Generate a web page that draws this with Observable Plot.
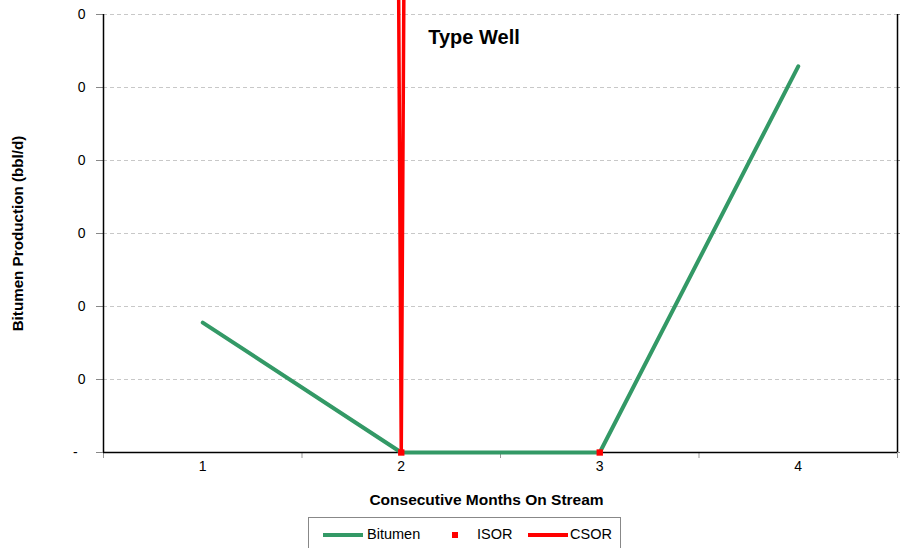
<!DOCTYPE html>
<html>
<head>
<meta charset="utf-8">
<script src="https://cdn.jsdelivr.net/npm/d3@7"></script>
<script src="https://cdn.jsdelivr.net/npm/@observablehq/plot@0.6"></script>
<style>
  html, body { margin: 0; padding: 0; background: #fff; overflow: hidden; }
  body { font-family: "Liberation Sans", Arial, sans-serif; width: 900px; height: 548px; position: relative; }
  #legend { position: absolute; left: 308px; top: 517px; width: 313px; height: 40px; border: 1px solid #888; box-sizing: border-box; font-size: 14.5px; color: #000; }
  #legend .item { position: absolute; top: 8px; line-height: 17px; }
  #legend .sw { position: absolute; }
</style>
</head>
<body>
<div id="chart"></div>
<div id="legend"></div>
<script>
// ---- data ----
const months = [1, 2, 3, 4];
const monthLabels = ["1", "2", "3", "4"];
const bitumen = [0.178, 0, 0, 0.529];
const isor = [null, 0, 0, null];
const csor = [48, 0, 48, null];
const yTicks = [0, 0.1, 0.2, 0.3, 0.4, 0.5, 0.6];
const yTickLabels = ["-  ", "0", "0", "0", "0", "0", "0"];
const seriesNames = ["Bitumen", "ISOR", "CSOR"];
const seriesColors = ["#339966", "#ff0000", "#ff0000"];
const title = "Type Well";
const xTitle = "Consecutive Months On Stream";
const yTitle = "Bitumen Production (bbl/d)";

const bitRows = months.map((m, i) => ({ month: m, value: bitumen[i] }));
const isorRows = months.map((m, i) => ({ month: m, value: isor[i] }));
const csorRows = months.map((m, i) => ({ month: m, value: csor[i] }));
const bounds = months.map(m => m - 0.5).concat([months[months.length - 1] + 0.5]);
const xDomain = [bounds[0], bounds[bounds.length - 1]];

const chart = Plot.plot({
  width: 900,
  height: 512,
  marginTop: 14,
  marginBottom: 60,
  marginLeft: 103,
  marginRight: 3,
  style: { fontFamily: "Liberation Sans, Arial, sans-serif", fontSize: "14px", color: "#000", background: "#fff" },
  x: { domain: xDomain },
  y: { domain: [yTicks[0], yTicks[yTicks.length - 1]] },
  marks: [
    Plot.gridY(yTicks, { stroke: "#c8c8c8", strokeOpacity: 1, strokeDasharray: "4,3" }),
    Plot.axisY({ ticks: yTicks, tickSize: 7, tickPadding: 11, stroke: "#888", tickFormat: (d) => yTickLabels[yTicks.indexOf(d)], label: null, fill: "#000", fontSize: 14 }),
    Plot.axisY({ anchor: "right", ticks: yTicks, tickSize: 3, tickFormat: () => "", stroke: "#888", label: null }),
    Plot.axisX({ ticks: bounds, tickSize: 6, tickFormat: () => "", stroke: "#999", label: null }),
    Plot.axisX({ ticks: months, tickSize: 0, tickPadding: 9, tickFormat: (d) => monthLabels[months.indexOf(d)], label: null, fill: "#000", fontSize: 14 }),
    Plot.ruleX([xDomain[0], xDomain[1]], { stroke: "#000", strokeWidth: 1.5 }),
    Plot.ruleY([yTicks[0]], { stroke: "#000", strokeWidth: 1.5 }),
    Plot.line(bitRows, { x: "month", y: "value", stroke: seriesColors[0], strokeWidth: 4 }),
    Plot.line(csorRows, { x: "month", y: "value", stroke: seriesColors[2], strokeWidth: 3.5 }),
    Plot.dot(isorRows, { x: "month", y: "value", symbol: "square", r: 3.6, fill: seriesColors[1], stroke: "none" }),
    Plot.text([title], { frameAnchor: "top", dx: -26.5, dy: 15, fontWeight: "bold", fontSize: 20, fill: "#000" }),
    Plot.text([xTitle], { frameAnchor: "bottom", dx: -14, dy: 52, fontWeight: "bold", fontSize: 15.5, fill: "#000" }),
    Plot.text([yTitle], { frameAnchor: "left", textAnchor: "middle", dx: -85, rotate: -90, fontWeight: "bold", fontSize: 15.2, fill: "#000" })
  ]
});
document.getElementById("chart").appendChild(chart);

// ---- legend ----
const legend = document.getElementById("legend");
const layout = [
  { sw: 14, swW: 40, txt: 58, kind: "line" },
  { sw: 143, swW: 6, txt: 168, kind: "square" },
  { sw: 219, swW: 40, txt: 261, kind: "line" }
];
seriesNames.forEach((name, i) => {
  const L = layout[i];
  const sw = document.createElement("div");
  sw.className = "sw";
  sw.style.left = L.sw + "px";
  sw.style.background = seriesColors[i];
  if (L.kind === "line") {
    sw.style.width = L.swW + "px";
    sw.style.height = "4px";
    sw.style.top = "15px";
  } else {
    sw.style.width = "6px";
    sw.style.height = "6px";
    sw.style.top = "14px";
  }
  legend.appendChild(sw);
  const t = document.createElement("div");
  t.className = "item";
  t.style.left = L.txt + "px";
  t.textContent = name;
  legend.appendChild(t);
});
</script>
</body>
</html>
